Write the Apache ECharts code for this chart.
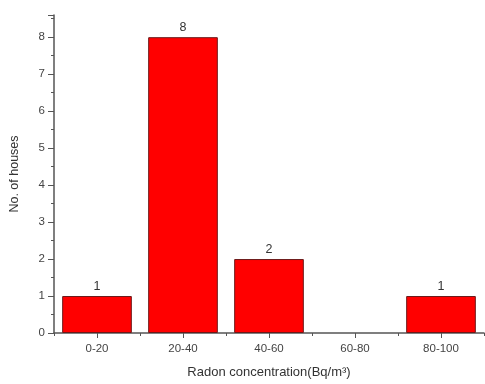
<!DOCTYPE html>
<html><head><meta charset="utf-8">
<script src="https://cdn.jsdelivr.net/npm/echarts@6/dist/echarts.min.js"></script>
<style>html,body{margin:0;padding:0;background:#fff}#c{width:485px;height:384px}</style>
</head><body><div id="c"></div>
<script>
const categories = ["0-20", "20-40", "40-60", "60-80", "80-100"];
const houses = [1, 8, 2, 0, 1];
const yTicks = [0, 1, 2, 3, 4, 5, 6, 7, 8];

const chart = echarts.init(document.getElementById('c'));
const font = 'Liberation Sans, Arial, sans-serif';
chart.setOption({
  animation: false,
  grid: {left: 52, right: 1, top: 15, bottom: 51},
  xAxis: [{
    type: 'category', data: categories,
    axisLine: {lineStyle: {color: '#555', width: 1.5}},
    axisTick: {show: true, alignWithLabel: true, length: 5, lineStyle: {color: '#555'}},
    axisLabel: {color: '#444', fontFamily: font, fontSize: 11.5, margin: 10},
    name: 'Radon concentration(Bq/m³)', nameLocation: 'middle', nameGap: 33,
    nameTextStyle: {color: '#333', fontFamily: font, fontSize: 13}
  }, {
    type: 'category', data: categories, position: 'bottom',
    axisLine: {show: false},
    axisTick: {show: true, length: 3, lineStyle: {color: '#555'}},
    axisLabel: {show: false}
  }],
  yAxis: {
    type: 'value', min: 0, max: 8.6, interval: 1,
    axisLine: {show: true, lineStyle: {color: '#555', width: 1.5}},
    axisTick: {show: true, length: 6, lineStyle: {color: '#555'}},
    minorTick: {show: true, splitNumber: 2, length: 3, lineStyle: {color: '#555'}},
    splitLine: {show: false},
    axisLabel: {color: '#444', fontFamily: font, fontSize: 11.5, margin: 9,
      formatter: v => yTicks.includes(v) ? String(v) : ''},
    name: 'No. of houses', nameLocation: 'middle', nameGap: 33,
    nameTextStyle: {color: '#333', fontFamily: font, fontSize: 12.5}
  },
  series: [{
    type: 'bar', barWidth: '81%',
    data: houses.map(v => v > 0 ? v : {value: v, itemStyle: {borderWidth: 0}}),
    itemStyle: {color: '#ff0000', borderColor: '#6b1a1a', borderWidth: 1},
    label: {show: true, position: 'top', color: '#333', fontFamily: font, fontSize: 12.5, distance: 3,
      formatter: p => p.value > 0 ? String(p.value) : ''}
  }]
});
</script></body></html>
